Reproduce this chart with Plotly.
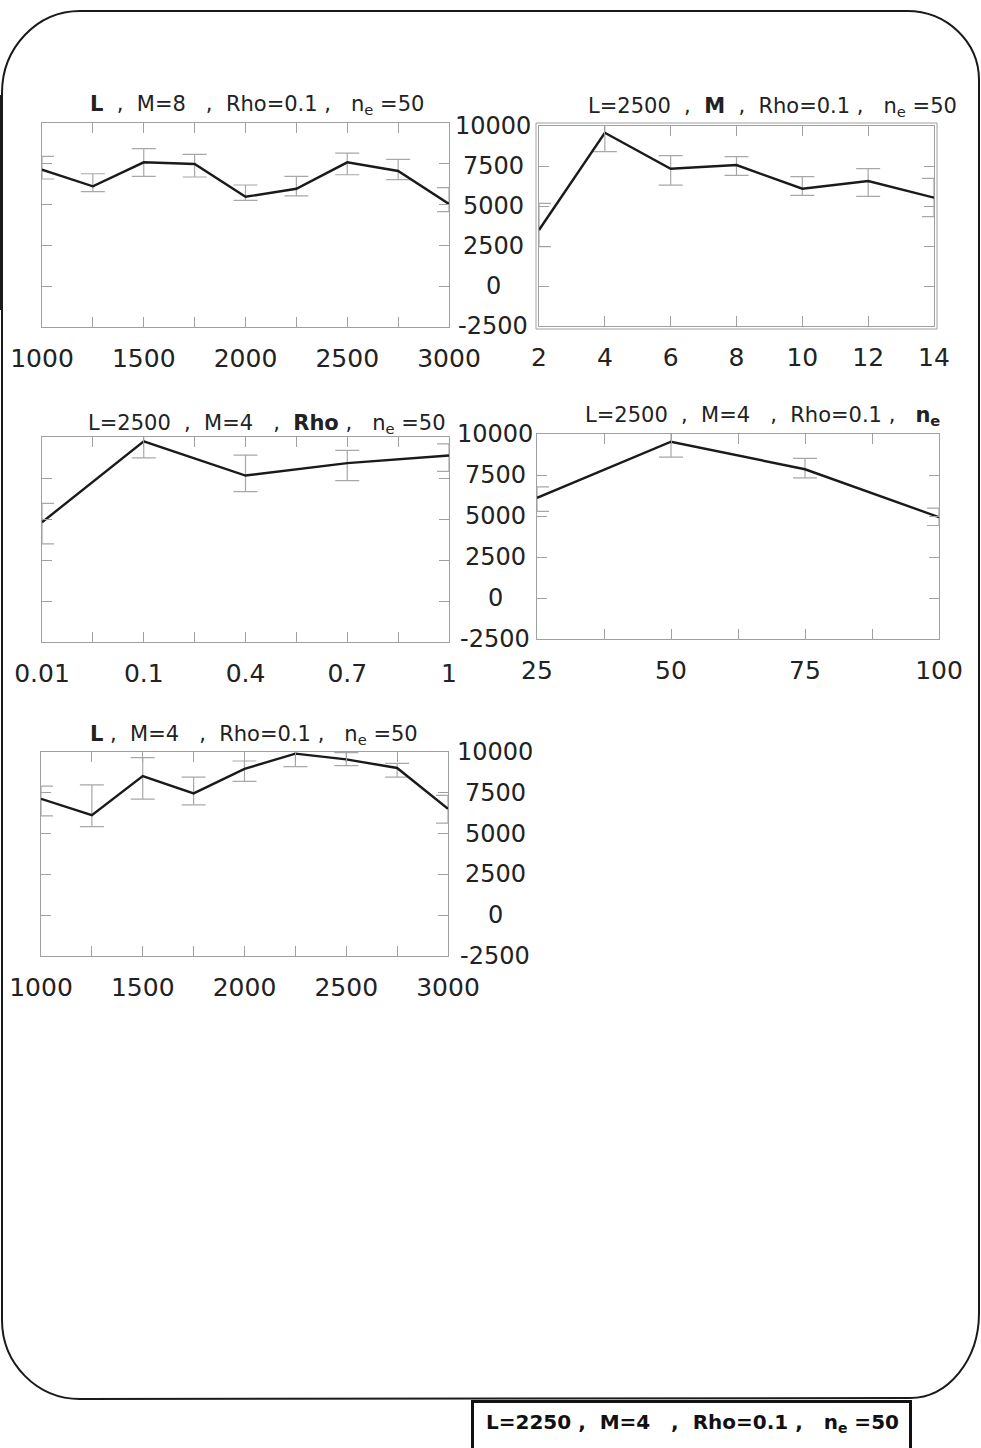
import plotly.graph_objects as go

W, H = 981, 1448
FONT = "DejaVu Sans"
INK = "#222222"
AXIS_GREY = "#a0a0a0"
ERR_GREY = "#a8a8a8"

# ---- data -------------------------------------------------------------
# panel 1: varying L (M=8)
L_values = [1000, 1250, 1500, 1750, 2000, 2250, 2500, 2750, 3000]
p1_mean = [7140, 6120, 7590, 7490, 5480, 5970, 7590, 7060, 5040]
p1_upper = [7960, 6890, 8430, 8080, 6200, 6730, 8160, 7770, 6040]
p1_lower = [6570, 5790, 6730, 6690, 5260, 5530, 6830, 6530, 4570]

# panel 2: varying M
M_values = [2, 4, 6, 8, 10, 12, 14]
p2_mean = [3500, 9580, 7330, 7560, 6080, 6560, 5520]
p2_upper = [5170, 10420, 8150, 8080, 6830, 7330, 6730]
p2_lower = [2460, 8400, 6310, 6920, 5670, 5600, 4330]

# panel 3: varying Rho
rho_labels = ["0.01", "0.1", "0.4", "0.7", "1"]
p3_mean = [4800, 9740, 7650, 8410, 8870]
p3_upper = [5950, 10370, 8890, 9180, 9580]
p3_lower = [3480, 8730, 6670, 7340, 7900]

# panel 4: varying n_e
ne_values = [25, 50, 75, 100]
p4_mean = [6110, 9530, 7850, 4930]
p4_upper = [6770, 10100, 8510, 5480]
p4_lower = [5280, 8590, 7320, 4420]

# panel 5: varying L (M=4)
p5_mean = [7130, 6130, 8520, 7460, 8970, 9900, 9550, 9020, 6520]
p5_upper = [7910, 7990, 9650, 8460, 9450, 10510, 9960, 9300, 7340]
p5_lower = [6090, 5430, 7110, 6760, 8200, 9100, 9160, 8460, 5640]

y_ticks = [-2500, 0, 2500, 5000, 7500, 10000]
y_ticktext = ["-2500", "0", "2500", "5000", "7500", "10000"]

L_ticks = [1000, 1500, 2000, 2500, 3000]
L_minor = [1250, 1750, 2250, 2750]
M_ticks = [2, 4, 6, 8, 10, 12, 14]
rho_ticks = [0, 1, 2, 3, 4]
rho_minor = [0.5, 1.5, 2.5, 3.5]
ne_ticks = [25, 50, 75, 100]
ne_minor = [37.5, 62.5, 87.5]

SP = "\u00a0"
titles = [
    f"<b>L</b>{SP*2},{SP*2}M=8{SP*3},{SP*2}Rho=0.1{SP},{SP*3}n<sub>e</sub>{SP}=50",
    f"L=2500{SP*2},{SP*2}<b>M</b>{SP*2},{SP*2}Rho=0.1{SP},{SP*3}n<sub>e</sub>{SP}=50",
    f"L=2500{SP*2},{SP*2}M=4{SP*3},{SP*2}<b>Rho</b>{SP},{SP*3}n<sub>e</sub>{SP}=50",
    f"L=2500{SP*2},{SP*2}M=4{SP*3},{SP*2}Rho=0.1{SP},{SP*3}<b>n<sub>e</sub></b>",
    f"<b>L</b>{SP},{SP*2}M=4{SP*3},{SP*2}Rho=0.1{SP},{SP*3}n<sub>e</sub>{SP}=50",
]
footer = f"<b>L=2250{SP},{SP*2}M=4{SP*3},{SP*2}Rho=0.1{SP},{SP*3}n<sub>e</sub>{SP}=50</b>"


def fx(px):
    return px / W


def fy(py):
    return 1 - py / H


# pixel boxes of the five plotting areas: (left, right, top, bottom)
boxes = [
    (42, 449, 123, 327),
    (539, 934, 126, 326),
    (42, 449, 437, 642),
    (537, 939, 434, 639),
    (41, 448, 752, 956),
]
title_pos = [(257, 105), (772, 107), (267, 424), (762, 416), (254, 735)]
ylabel_pos = [(493, 2), (495, 4), (495, 5)]  # (center x, y-axis index)

fig = go.Figure()

series = [
    (L_values, p1_mean, p1_upper, p1_lower),
    (M_values, p2_mean, p2_upper, p2_lower),
    (list(range(len(rho_labels))), p3_mean, p3_upper, p3_lower),
    (ne_values, p4_mean, p4_upper, p4_lower),
    (L_values, p5_mean, p5_upper, p5_lower),
]

for i, (xs, mean, up, lo) in enumerate(series, start=1):
    fig.add_trace(go.Scatter(
        x=xs, y=mean, mode="lines",
        line=dict(color="#1a1a1a", width=2.4),
        error_y=dict(
            type="data", symmetric=False,
            array=[u - m for u, m in zip(up, mean)],
            arrayminus=[m - l for m, l in zip(mean, lo)],
            color=ERR_GREY, thickness=1.2, width=12,
        ),
        cliponaxis=False,
        xaxis=f"x{i}" if i > 1 else "x",
        yaxis=f"y{i}" if i > 1 else "y",
        showlegend=False,
        hoverinfo="skip",
    ))

MINOR = dict(ticks="inside", ticklen=10, tickwidth=1, tickcolor=AXIS_GREY,
             showgrid=False)

x_specs = [
    dict(range=[1000, 3000], tickvals=L_ticks,
         ticktext=[str(v) for v in L_ticks],
         minor=dict(MINOR, tickvals=L_minor)),
    dict(range=[2, 14], tickvals=M_ticks, ticktext=[str(v) for v in M_ticks]),
    dict(range=[0, 4], tickvals=rho_ticks, ticktext=rho_labels,
         minor=dict(MINOR, tickvals=rho_minor)),
    dict(range=[25, 100], tickvals=ne_ticks,
         ticktext=[str(v) for v in ne_ticks],
         minor=dict(MINOR, tickvals=ne_minor)),
    dict(range=[1000, 3000], tickvals=L_ticks,
         ticktext=[str(v) for v in L_ticks],
         minor=dict(MINOR, tickvals=L_minor)),
]

common = dict(
    showline=True, linecolor=AXIS_GREY, linewidth=1, mirror="ticks",
    ticks="inside", ticklen=10, tickwidth=1, tickcolor=AXIS_GREY,
    showgrid=False, zeroline=False, fixedrange=True, automargin=False,
)

layout = dict(
    width=W, height=H, autosize=False,
    margin=dict(l=0, r=0, t=0, b=0, pad=0, autoexpand=False),
    paper_bgcolor="white", plot_bgcolor="white",
    font=dict(family=FONT, color=INK),
    showlegend=False,
)

for i, ((l, r, t, b), spec) in enumerate(zip(boxes, x_specs), start=1):
    xname = "xaxis" if i == 1 else f"xaxis{i}"
    yname = "yaxis" if i == 1 else f"yaxis{i}"
    xa = "x" if i == 1 else f"x{i}"
    ya = "y" if i == 1 else f"y{i}"
    layout[xname] = dict(
        common, domain=[fx(l), fx(r)], anchor=ya,
        tickfont=dict(family=FONT, size=25, color=INK),
        ticklabelstandoff=9, **spec,
    )
    layout[yname] = dict(
        common, domain=[fy(b), fy(t)], anchor=xa,
        range=[-2500, 10000], tickvals=y_ticks, showticklabels=False,
    )

fig.update_layout(**layout)

annotations = []
for (cx, cy), txt in zip(title_pos, titles):
    annotations.append(dict(
        text=txt, xref="paper", yref="paper", x=fx(cx), y=fy(cy),
        xanchor="center", yanchor="middle", showarrow=False,
        font=dict(family=FONT, size=21, color=INK),
    ))

# shared value labels placed between the columns
for cx, idx in ylabel_pos:
    for v, t in zip(y_ticks, y_ticktext):
        annotations.append(dict(
            text=t, xref="paper", yref=f"y{idx}", x=fx(cx), y=v,
            xanchor="center", yanchor="middle", showarrow=False,
            font=dict(family=FONT, size=24, color=INK),
        ))

annotations.append(dict(
    text=footer, xref="paper", yref="paper", x=fx(692), y=fy(1423),
    xanchor="center", yanchor="middle", showarrow=False,
    font=dict(family=FONT, size=20, color="#111111"),
))


def corner(x0, y0, x1, y1, horizontal_first):
    """Cubic approximation of a quarter ellipse from (x0,y0) to (x1,y1)."""
    k = 0.5523
    if horizontal_first:
        c1 = (x0 + (x1 - x0) * k, y0)
        c2 = (x1, y1 - (y1 - y0) * k)
    else:
        c1 = (x0, y0 + (y1 - y0) * k)
        c2 = (x1 - (x1 - x0) * k, y1)
    pts = [c1, c2, (x1, y1)]
    return "C " + " ".join(f"{fx(a):.5f},{fy(b):.5f}" for a, b in pts)


frame = " ".join([
    f"M {fx(80):.5f},{fy(11):.5f}",
    f"L {fx(907):.5f},{fy(11):.5f}",
    corner(907, 11, 979, 80, True),
    f"L {fx(979):.5f},{fy(1313):.5f}",
    corner(979, 1313, 910, 1398, False),
    f"L {fx(80):.5f},{fy(1399):.5f}",
    corner(80, 1399, 2, 1320, True),
    f"L {fx(2):.5f},{fy(93):.5f}",
    corner(2, 93, 80, 11, False),
    "Z",
])

shapes = [
    dict(type="path", path=frame, xref="paper", yref="paper",
         line=dict(color="#1a1a1a", width=2), fillcolor="rgba(0,0,0,0)"),
    dict(type="line", xref="paper", yref="paper",
         x0=fx(1.5), x1=fx(1.5), y0=fy(95), y1=fy(310),
         line=dict(color="#1a1a1a", width=3)),
    # double frame around the M panel
    dict(type="rect", xref="paper", yref="paper",
         x0=fx(536), x1=fx(937), y0=fy(329), y1=fy(123),
         line=dict(color=AXIS_GREY, width=1), fillcolor="rgba(0,0,0,0)"),
    # caption box at the bottom
    dict(type="rect", xref="paper", yref="paper",
         x0=fx(472.5), x1=fx(910.5), y0=fy(1470), y1=fy(1401.5),
         line=dict(color="#111111", width=3), fillcolor="white"),
]

fig.update_layout(annotations=annotations, shapes=shapes)

fig.write_html("out.html")
